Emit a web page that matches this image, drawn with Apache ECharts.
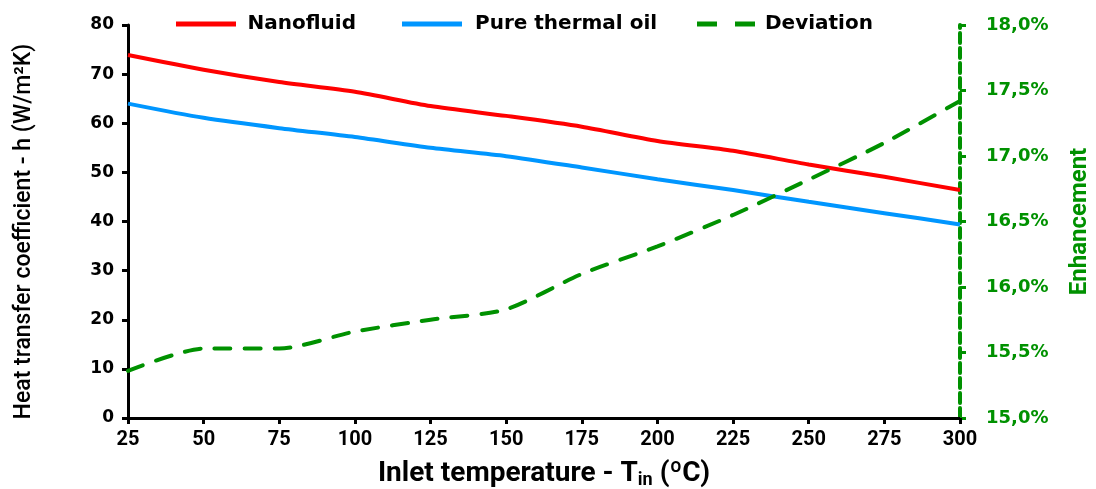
<!DOCTYPE html>
<html>
<head>
<meta charset="utf-8">
<title>Heat transfer coefficient vs inlet temperature</title>
<script src="https://cdn.jsdelivr.net/npm/echarts@6/dist/echarts.min.js"></script>
<style>
  html, body { margin: 0; padding: 0; background: #fff; }
  #chart { width: 1096px; height: 489px; }
</style>
</head>
<body>
<div id="chart"></div>
<script>
// Inlet temperature (°C)
const temperatures = [25, 50, 75, 100, 125, 150, 175, 200, 225, 250, 275, 300];
// Heat transfer coefficient h (W/m²K)
const nanofluid = [73.9, 70.9, 68.4, 66.4, 63.5, 61.5, 59.3, 56.4, 54.4, 51.6, 49.1, 46.4];
const pureOil   = [64.0, 61.1, 59.0, 57.2, 55.0, 53.3, 51.0, 48.6, 46.4, 44.0, 41.7, 39.4];
// Enhancement of nanofluid over pure oil (%)
const deviation = [15.36, 15.53, 15.53, 15.66, 15.75, 15.83, 16.10, 16.31, 16.55, 16.82, 17.10, 17.42];

const RED = '#ff0000';
const BLUE = '#0096ff';
const GREEN = '#009100';
const LABEL_FONT = 'DejaVu Sans';
const TITLE_FONT = "'Liberation Sans Narrow', 'Roboto', sans-serif";

const pairs = (ys) => temperatures.map((t, i) => [t, ys[i]]);

const chart = echarts.init(document.getElementById('chart'));

const legendBase = {
  top: 9,
  itemHeight: 5,
  textStyle: { fontFamily: LABEL_FONT, fontWeight: 'bold', fontSize: 20, color: '#000', padding: [0, 0, 0, 4] }
};
const SOLID_ICON = 'path://M0,0H60V5H0Z';
const DASH_ICON = 'path://M0,0H20V5H0Z M38,0H58V5H38Z';

chart.setOption({
  animation: false,
  backgroundColor: '#fff',
  grid: { left: 128, right: 136, top: 25, bottom: 71, containLabel: false, outerBoundsMode: 'none' },
  legend: [
    Object.assign({}, legendBase, { left: 171, itemWidth: 65, data: [{ name: 'Nanofluid', icon: SOLID_ICON }] }),
    Object.assign({}, legendBase, { left: 397, itemWidth: 68, data: [{ name: 'Pure thermal oil', icon: SOLID_ICON }] }),
    Object.assign({}, legendBase, { left: 692, itemWidth: 60, data: [{ name: 'Deviation', icon: DASH_ICON }] })
  ],
  xAxis: {
    type: 'value',
    min: 25, max: 300, interval: 25,
    splitLine: { show: false },
    axisLine: { onZero: false, lineStyle: { color: '#000', width: 3 } },
    axisTick: { inside: false, length: 6, lineStyle: { color: '#000', width: 3 } },
    axisLabel: { margin: 12, color: '#000', fontFamily: TITLE_FONT, fontWeight: 'bold', fontSize: 20 },
    name: '{a|Inlet temperature - T}{sub|in}{a| (ºC)}',
    nameLocation: 'middle',
    nameGap: 41,
    nameTextStyle: {
      rich: {
        a: { fontFamily: TITLE_FONT, fontWeight: 'bold', fontSize: 28, color: '#000', lineHeight: 30 },
        sub: { fontFamily: TITLE_FONT, fontWeight: 'bold', fontSize: 18, color: '#000', verticalAlign: 'bottom', lineHeight: 22 }
      }
    }
  },
  yAxis: [
    {
      type: 'value',
      min: 0, max: 80, interval: 10,
      position: 'left',
      splitLine: { show: false },
      axisLine: { show: true, lineStyle: { color: '#000', width: 3 } },
      axisTick: { show: true, length: 6, lineStyle: { color: '#000', width: 3 } },
      axisLabel: { margin: 14, color: '#000', fontFamily: LABEL_FONT, fontWeight: 'bold', fontSize: 17 },
      name: 'Heat transfer coefficient - h (W/m²K)',
      nameLocation: 'middle',
      nameRotate: 90,
      nameGap: 92,
      nameTextStyle: { fontFamily: TITLE_FONT, fontWeight: 500, fontSize: 23, color: '#000', padding: [0, 20, 0, 0] }
    },
    {
      type: 'value',
      min: 15, max: 18, interval: 0.5,
      position: 'right',
      splitLine: { show: false },
      axisLine: { show: true, lineStyle: { color: GREEN, width: 4, type: [10, 5] } },
      axisTick: { show: true, length: 6, lineStyle: { color: GREEN, width: 3 } },
      axisLabel: {
        margin: 26, color: GREEN, fontFamily: LABEL_FONT, fontWeight: 'bold', fontSize: 18,
        formatter: (v) => v.toFixed(1).replace('.', ',') + '%'
      },
      name: 'Enhancement',
      nameLocation: 'middle',
      nameRotate: 90,
      nameGap: 108,
      nameTextStyle: { fontFamily: TITLE_FONT, fontWeight: 'bold', fontSize: 24, color: GREEN }
    }
  ],
  series: [
    {
      name: 'Nanofluid', type: 'line', yAxisIndex: 0,
      data: pairs(nanofluid), showSymbol: false, symbol: 'none', smooth: 0.25,
      lineStyle: { color: RED, width: 4 }, itemStyle: { color: RED }
    },
    {
      name: 'Pure thermal oil', type: 'line', yAxisIndex: 0,
      data: pairs(pureOil), showSymbol: false, symbol: 'none', smooth: 0.25,
      lineStyle: { color: BLUE, width: 4 }, itemStyle: { color: BLUE }
    },
    {
      name: 'Deviation', type: 'line', yAxisIndex: 1,
      data: pairs(deviation), showSymbol: false, symbol: 'none', smooth: 0.25,
      lineStyle: { color: GREEN, width: 4, type: [16, 14], cap: 'round' }, itemStyle: { color: GREEN }
    }
  ]
});
</script>
</body>
</html>
